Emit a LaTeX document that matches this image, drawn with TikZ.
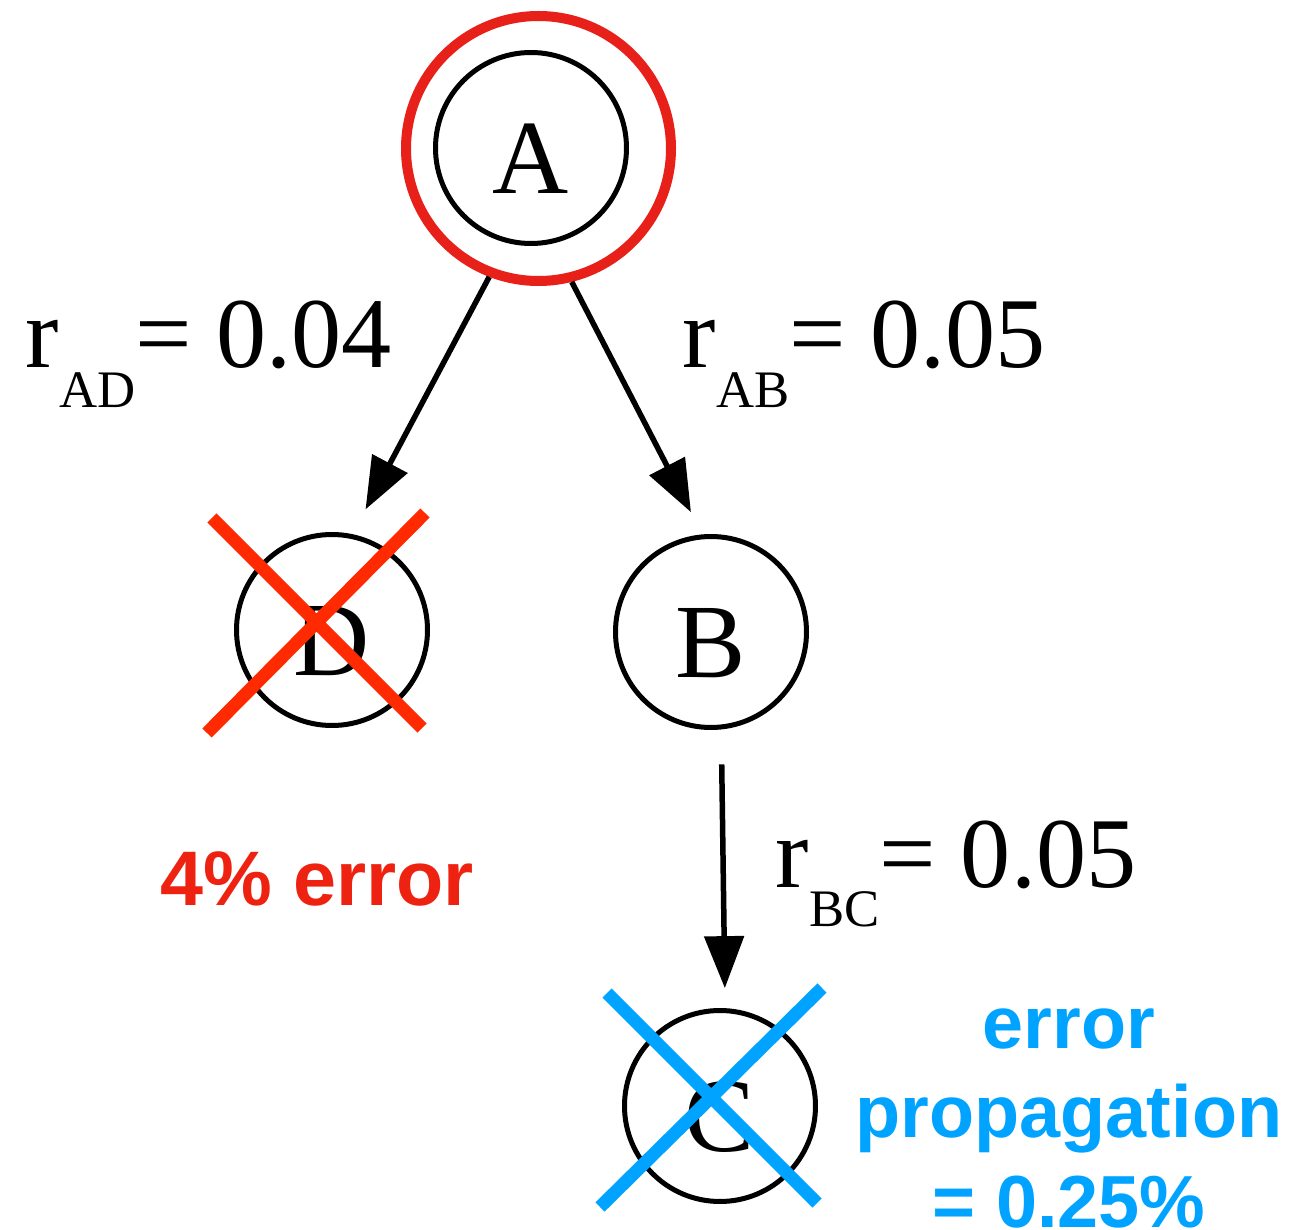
\documentclass[tikz,border=0pt]{standalone}
\usepackage{fontspec}
\setmainfont{Liberation Serif}
\setsansfont{Liberation Sans}
\usetikzlibrary{arrows.meta}
\definecolor{ringred}{HTML}{E8201A}
\definecolor{crossred}{HTML}{FF2A00}
\definecolor{textred}{HTML}{EE2211}
\definecolor{crossblue}{HTML}{00A3FF}
\newcommand{\rsub}[1]{\raisebox{-0.4cm}{\fontsize{15}{15}\selectfont #1}}
\tikzset{
  state/.style={circle,draw=black,line width=0.05cm,minimum size=1.91cm,inner sep=0pt,font=\fontsize{30}{30}\selectfont,text height=25.8pt,text depth=0pt},
  ring/.style={circle,draw=ringred,line width=0.1cm,minimum size=2.65cm,inner sep=0pt},
  flow/.style={-{Triangle[length=5.2mm,width=3.9mm]},line width=0.055cm},
  rate/.style={anchor=base west,inner sep=0pt,font=\fontsize{28.5}{30}\selectfont},
  strike/.style={line width=0.13cm},
  note/.style={font=\sffamily\bfseries\fontsize{21}{25.4}\selectfont,inner sep=0pt,align=center}
}

\begin{document}
\begin{tikzpicture}
  \useasboundingbox (0,0) rectangle (13.01,-12.30);

  \node[state] (nodeA) at (5.31,-1.48) {A};
  \node[ring] (ringA) at (5.385,-1.485) {};
  \node[state] (nodeD) at (3.32,-6.30) {D};
  \node[state] (nodeB) at (7.11,-6.32) {B};
  \node[state] (nodeC) at (7.20,-11.06) {C};

  \draw[flow,shorten >=2.8mm] (ringA.249) -- (nodeD.78);
  \draw[flow,shorten >=2.5mm] (ringA.284) -- (nodeB.95);
  \draw[flow,shorten <=3.5mm,shorten >=2mm] (nodeB.276) -- (nodeC.87);

  \node[rate] (rateAD) at (0.25,-3.68) {r\rsub{AD}= 0.04};
  \node[rate] (rateAB) at (6.82,-3.68) {r\rsub{AB}= 0.05};
  \node[rate] (rateBC) at (7.75,-8.87) {r\rsub{BC}= 0.05};

  % crossed-out nodes
  \draw[strike,draw=crossred] (2.12,-5.18) -- (4.22,-7.28) (2.07,-7.33) -- (4.25,-5.13);
  \draw[strike,draw=crossblue] (6.07,-9.93) -- (8.17,-12.03) (6.00,-12.07) -- (8.22,-9.88);

  \node[note,text=textred,anchor=base,font=\sffamily\bfseries\fontsize{22}{26}\selectfont] (errD) at (3.17,-9.05) {4\% error};
  \node[note,text=crossblue,anchor=base] (errC) at (10.69,-12.27) {error\\propagation\\= 0.25\%};
\end{tikzpicture}
\end{document}
